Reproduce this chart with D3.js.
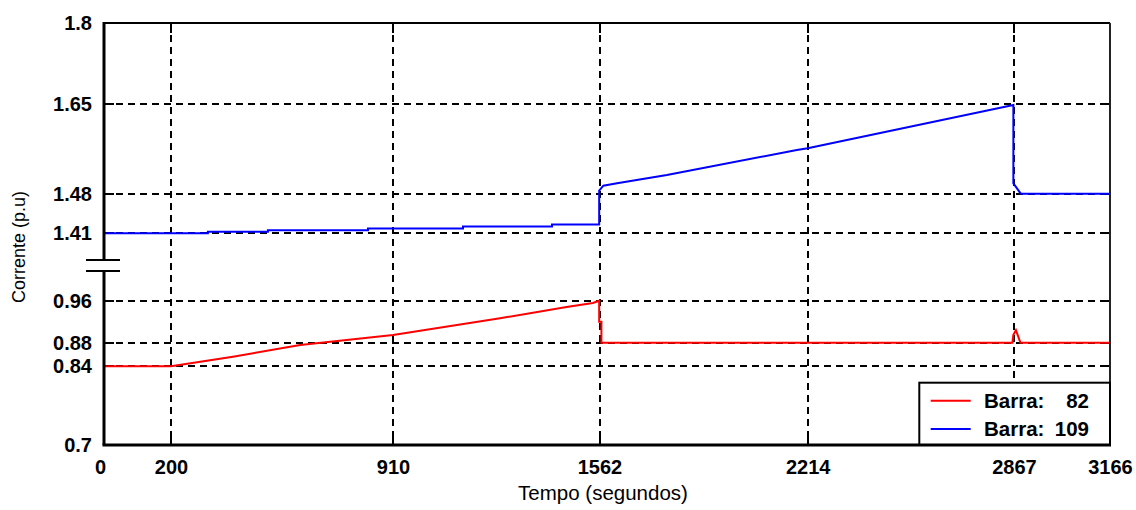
<!DOCTYPE html>
<html>
<head>
<meta charset="utf-8">
<script src="https://cdn.jsdelivr.net/npm/d3@7"></script>
<style>
  html, body { margin: 0; padding: 0; background: #ffffff; }
  svg { display: block; }
  text { font-family: "Liberation Sans", Arial, sans-serif; }
</style>
</head>
<body>
<svg id="chart" width="1136" height="510"></svg>
<script>
// ---- data ----
const xTicks = [0, 200, 910, 1562, 2214, 2867, 3166];
const yTicks = [0.7, 0.84, 0.88, 0.96, 1.41, 1.48, 1.65, 1.8];

// Barra 82 (red)
const timeRed = [0, 200, 398, 613, 910, 1248, 1458, 1541, 1561, 1561, 1568, 1568, 2862, 2865, 2873, 2887, 3166];
const valRed  = [0.84, 0.84, 0.8563, 0.8761, 0.8947, 0.9265, 0.948, 0.9556, 0.96, 0.92, 0.92, 0.88, 0.88, 0.895, 0.904, 0.88, 0.88];

// Barra 109 (blue)
const timeBlue = [0, 318, 318, 510, 510, 830, 830, 1131, 1131, 1412, 1412, 1561, 1561, 1574, 1617, 1773, 2180, 2214, 2865, 2865, 2888, 3166];
const valBlue  = [1.41, 1.41, 1.4128, 1.4128, 1.4152, 1.4152, 1.4187, 1.4187, 1.4221, 1.4221, 1.4256, 1.4256, 1.4857, 1.4951, 1.4996, 1.5153, 1.5625, 1.5658, 1.6475, 1.4996, 1.48, 1.48];

const seriesNames = ["Barra:", "Barra:"];
const seriesIds = ["82", "109"];
const seriesColors = ["#ff0000", "#0000ff"];

// ---- layout ----
const L = 104, R = 1110, T = 23, B = 445;
const svg = d3.select("#chart");

// axis ticks are not evenly spaced in the original: piecewise-linear scales through tick positions
const x = d3.scaleLinear().domain(xTicks).range([L, 171, 393, 599.5, 807.7, 1014, R]);
const y = d3.scaleLinear()
  .domain(yTicks)
  .range([445, 366.3, 342.7, 300.7, 233.3, 193.7, 103.7, 23]);

// grid
const grid = svg.append("g").attr("stroke", "#000").attr("stroke-width", 2).attr("stroke-dasharray", "7,5");
grid.selectAll("line.gx").data(xTicks.slice(1, -1)).join("line")
  .attr("x1", d => Math.round(x(d))).attr("x2", d => Math.round(x(d))).attr("y1", T).attr("y2", B);
grid.selectAll("line.gy").data(yTicks.slice(1, -1)).join("line")
  .attr("x1", L).attr("x2", R).attr("y1", d => Math.round(y(d))).attr("y2", d => Math.round(y(d)));

// inward ticks
const tk = svg.append("g").attr("stroke", "#000").attr("stroke-width", 2);
xTicks.slice(1, -1).forEach(d => {
  const px = Math.round(x(d));
  tk.append("line").attr("x1", px).attr("x2", px).attr("y1", B).attr("y2", B - 10);
  tk.append("line").attr("x1", px).attr("x2", px).attr("y1", T).attr("y2", T + 10);
});
yTicks.slice(1, -1).forEach(d => {
  const py = Math.round(y(d));
  tk.append("line").attr("x1", L).attr("x2", L + 10).attr("y1", py).attr("y2", py);
  tk.append("line").attr("x1", R).attr("x2", R - 10).attr("y1", py).attr("y2", py);
});

// lines
const line = d3.line().x(d => x(d[0])).y(d => y(d[1]));
const red = timeRed.map((t, i) => [t, valRed[i]]);
const blue = timeBlue.map((t, i) => [t, valBlue[i]]);
svg.append("path").datum(red).attr("d", line).attr("fill", "none").attr("stroke", seriesColors[0]).attr("stroke-width", 2);
svg.append("path").datum(blue).attr("d", line).attr("fill", "none").attr("stroke", seriesColors[1]).attr("stroke-width", 2);

// frame
const breakTop = 260, breakBot = 271;
svg.append("line").attr("x1", L).attr("x2", R).attr("y1", T).attr("y2", T).attr("stroke", "#000").attr("stroke-width", 2);
svg.append("line").attr("x1", R).attr("x2", R).attr("y1", T).attr("y2", B).attr("stroke", "#222").attr("stroke-width", 2);
svg.append("line").attr("x1", L).attr("x2", L).attr("y1", T - 1).attr("y2", breakTop).attr("stroke", "#000").attr("stroke-width", 3);
svg.append("line").attr("x1", L).attr("x2", L).attr("y1", breakBot).attr("y2", B).attr("stroke", "#000").attr("stroke-width", 3);
[breakTop, breakBot].forEach(v => {
  svg.append("line").attr("x1", 86).attr("x2", 120).attr("y1", v).attr("y2", v).attr("stroke", "#000").attr("stroke-width", 2);
});

// axes labels (via d3 axes)
const xa = svg.append("g").attr("transform", `translate(0,${B})`)
  .call(d3.axisBottom(x).tickValues(xTicks).tickFormat(d => String(d)).tickSize(0).tickPadding(15));
const ya = svg.append("g").attr("transform", `translate(${L},0)`)
  .call(d3.axisLeft(y).tickValues(yTicks).tickFormat(d => String(d)).tickSize(0).tickPadding(12));
[xa, ya].forEach(g => {
  g.select(".domain").remove();
  g.selectAll("text").attr("font-family", "'Liberation Sans', Arial, sans-serif")
    .attr("font-size", 20).attr("font-weight", "bold").attr("fill", "#000");
});
xa.selectAll("text").filter(d => d === 0).attr("dx", -4);

// axis titles
svg.append("text").attr("x", 603).attr("y", 500).attr("text-anchor", "middle")
  .attr("font-size", 20.5).attr("fill", "#000").text("Tempo (segundos)");
svg.append("text").attr("transform", "translate(25,247) rotate(-90)").attr("text-anchor", "middle")
  .attr("font-size", 18).attr("fill", "#000").text("Corrente (p.u)");

// legend
const lg = svg.append("g");
lg.append("rect").attr("x", 919.3).attr("y", 382.7).attr("width", R - 919.3).attr("height", B - 382.7)
  .attr("fill", "#fff").attr("stroke", "#000").attr("stroke-width", 2);
const rowY = [400.7, 429];
seriesIds.forEach((id, i) => {
  lg.append("line").attr("x1", 930.7).attr("x2", 970.7).attr("y1", rowY[i]).attr("y2", rowY[i])
    .attr("stroke", seriesColors[i]).attr("stroke-width", 2);
  lg.append("text").attr("x", 984).attr("y", rowY[i]).attr("dy", "0.36em")
    .attr("font-size", 20.5).attr("font-weight", "bold").text(seriesNames[i]);
  lg.append("text").attr("x", 1089).attr("y", rowY[i]).attr("dy", "0.36em").attr("text-anchor", "end")
    .attr("font-size", 20.5).attr("font-weight", "bold").text(id);
});
// bottom frame over legend border
svg.append("line").attr("x1", L - 1.5).attr("x2", R + 1).attr("y1", B).attr("y2", B).attr("stroke", "#000").attr("stroke-width", 3);
</script>
</body>
</html>
